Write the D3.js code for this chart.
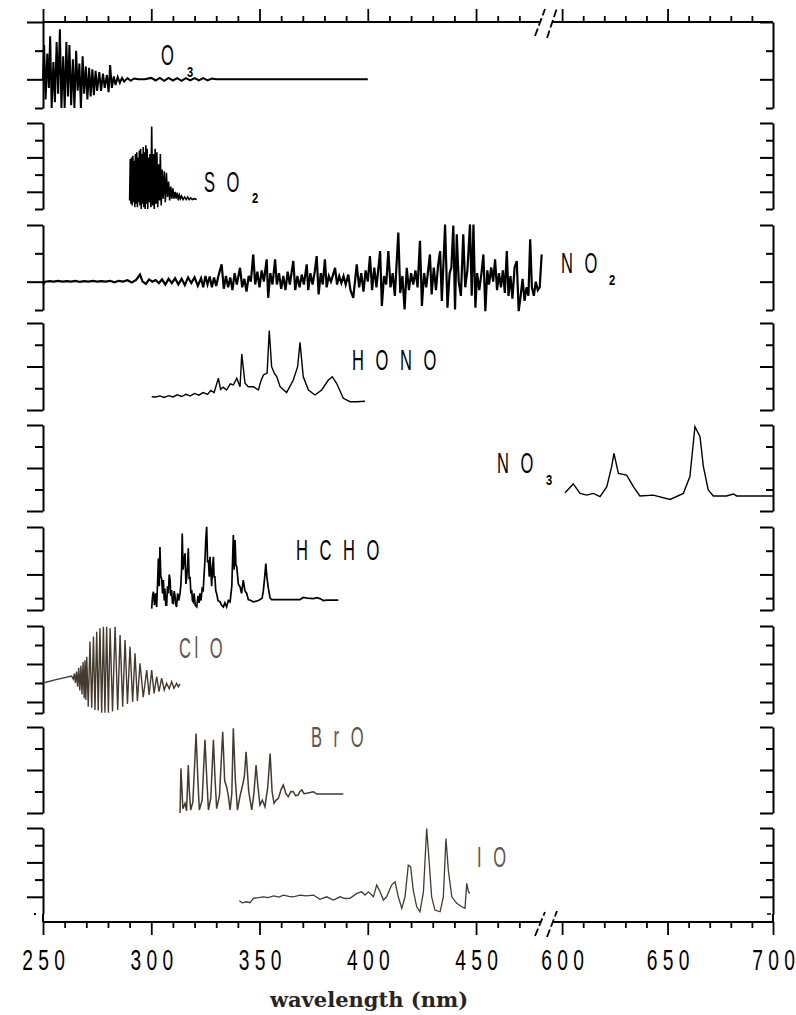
<!DOCTYPE html>
<html>
<head>
<meta charset="utf-8">
<script src="https://cdn.jsdelivr.net/npm/d3@7"></script>
<style>
  body { margin: 0; background: #fff; }
  svg { display: block; }
</style>
</head>
<body>
<svg id="chart" width="796" height="1015"></svg>
<script>
// absorption spectra, [wavelength (nm), relative value]
const o3 = [[250,0],[250.5,1.2],[251.2,-0.7],[252,0.9],[252.7,-0.3],[253.3,1.5],[254,-1.0],[254.8,0.6],
  [255.5,-0.8],[256.3,1.3],[257,-0.5],[257.8,1.75],[258.5,-1.0],[259.3,0.8],[260,-1.0],[260.8,1.3],
  [261.5,-0.6],[262.2,1.2],[263,-0.9],[263.8,0.7],[264.5,-1.0],[265.3,1.0],[266,-0.4],[266.8,0.55],
  [267.5,-1.0],[268.3,0.8],[269,-0.5],[269.8,0.45],[270.5,-0.7],[271.3,0.4],[272,-0.6],[272.8,0.35],
  [273.5,-0.55],[274.3,0.3],[275,-0.4],[276,0.25],[276.8,-0.4],[277.7,0.2],[278.5,-0.3],[279.5,0.15],
  [280.3,-0.45],[281,0.5],[281.8,-0.3],[282.7,0.1],[283.5,-0.2],[284.5,0.08],[285.5,-0.12],[286.5,0.05],
  [287.5,-0.08],[289,0.04],[290.5,-0.05],[292,0.03],[294,0],[297,0],[300,0.05],[302,-0.04],[304,0.05],
  [306,-0.05],[308,0.05],[310,-0.04],[312,0.04],[314,-0.05],[316,0.04],[318,-0.04],[320,0.04],
  [322,-0.04],[324,0.04],[326,-0.04],[328,0.03],[330,0],[400,0]];

const so2 = [[290,0.5],[290.3,2.9],[290.6,0.3],[290.9,3.0],[291.2,0.2],[291.5,3.1],[291.8,0.4],[292.1,2.8],
  [292.4,0.1],[292.7,3.2],[293,0.3],[293.3,3.3],[293.6,0.1],[293.9,3.0],[294.2,0.4],[294.5,3.4],[294.8,0.2],
  [295.1,3.5],[295.4,0],[295.7,3.2],[296,0.3],[296.3,3.6],[296.6,0.1],[296.9,3.3],[297.2,0],[297.5,3.7],
  [297.8,0.3],[298.1,3.5],[298.4,0],[298.7,3.0],[299,0.4],[299.4,3.2],[299.8,0.1],[300.2,4.8],[300.6,0.2],
  [301,3.2],[301.4,0],[301.8,3.5],[302.2,0.3],[302.6,3.3],[303,0.1],[303.4,2.6],[303.8,0.5],[304.2,3.2],
  [304.6,0.2],[305,2.3],[305.5,0.6],[306,2.2],[306.5,0.4],[307,2.1],[307.5,0.7],[308,1.6],[308.5,0.5],
  [309,1.3],[309.5,0.6],[310,1.2],[310.5,0.6],[311,1.0],[311.5,0.6],[312,0.95],[312.5,0.5],[313,0.8],
  [313.5,0.6],[314,0.75],[314.7,0.55],[315.4,0.7],[316.1,0.55],[316.8,0.7],[317.5,0.55],[318.2,0.65],
  [319,0.55],[320,0.6],[321,0.55]];

const no2 = [[250,-0.1],[251,0],[253,0.02],[255,0],[257,0.03],[259,0],[261,0.02],[263,0],[265,0.03],
  [267,-0.01],[269,0.02],[271,0],[273,0.03],[275,0],[277,0.02],[279,0],[281,0.03],[283,-0.02],[285,0.03],
  [287,0],[289,0.05],[291,-0.03],[293,0.06],[294.8,0.25],[296,0],[297.5,-0.08],[299,0.08],[300.5,0],
  [302,0.06],[303.5,-0.05],[305,0.08],[306.5,-0.1],[308,0.1],[309.5,-0.05],[311,0.12],[312.5,-0.1],
  [314,0.1],[315.5,-0.12],[317,0.15],[318.5,-0.05],[320,0.15],[321.5,-0.15],[323,0.12],[324,-0.2],
  [325,0.2],[326,-0.1],[327,0.18],[328,-0.2],[329,0.15],[330,-0.15],[331,0.2],[332.5,0.61],[333.5,-0.25],
  [334.5,0.2],[335.5,-0.2],[336.5,0.15],[337.5,-0.3],[338.5,0.3],[339.5,-0.1],[341,0.49],[342,-0.2],
  [343,0.1],[344,-0.35],[345,0.2],[346,0],[347.1,0.96],[348,-0.1],[349,0.35],[350,-0.2],[351,0.4],
  [352,0],[353.3,0.79],[354,-0.57],[355,0.3],[356,-0.1],[357.2,0.79],[358,-0.1],[359,0.3],[360,-0.25],
  [361,0.2],[362,-0.3],[363,0.35],[364,-0.1],[365.6,0.73],[366.5,-0.3],[367.5,0.2],[368.5,-0.2],
  [369.5,0.25],[370.5,-0.1],[371.8,0.61],[372.5,-0.3],[373.5,0.3],[374.5,-0.1],[375.5,0.35],[376.4,0.9],
  [377.3,-0.45],[378.3,0.3],[379.2,-0.1],[380.2,0.79],[381,-0.2],[382,0.2],[383,0],[384,0.25],
  [384.9,0.49],[385.8,-0.1],[386.8,0.2],[387.8,-0.05],[388.8,0.2],[389.8,-0.1],[391,0.25],[392,-0.3],
  [393.3,-0.57],[394.9,0.61],[396,-0.2],[397,0.3],[398,-0.35],[399,0.4],[400,0],[401,0.9],[402,-0.3],
  [403,0.5],[404,-0.2],[405.7,1.08],[406.5,-0.86],[407.5,0.2],[408.5,-0.1],[409.5,1.08],[410.5,-0.2],
  [411.5,0.3],[412.5,-0.5],[414.1,1.73],[415,-0.4],[416,0.2],[417,-0.98],[418,0.49],[419,-0.3],[420,0.3],
  [421,-0.1],[422,0.4],[423,-0.2],[424.1,1.44],[425,-0.86],[426,0.3],[427,-0.2],[428.7,0.96],
  [429.5,-0.45],[430.5,0.5],[431.5,-0.3],[432.5,0.6],[433.4,1.08],[434.2,-0.68],[435.7,2.02],
  [436.8,-0.92],[437.8,0.3],[438.6,0.5],[439.5,1.98],[440.3,-0.98],[441.1,1.67],[442,0],[443,-0.5],
  [444.1,1.67],[445,-0.2],[446,0.4],[447.2,2.02],[448,-0.5],[448.8,2.02],[449.7,-0.92],[450.5,0.3],
  [451.5,-0.3],[452.5,0.3],[453.4,0.96],[454.3,-1.04],[455.2,0.4],[456,-0.1],[457,0.5],[457.9,0],
  [458.8,0.79],[459.7,-0.3],[460.6,0.3],[461.5,-0.2],[462.4,0.4],[463.3,-0.4],[464.2,1.08],[465,-0.5],
  [465.9,0.2],[466.8,-0.6],[467.8,0.5],[468.8,0.73],[469.7,-1.04],[470.6,-0.5],[471.5,0.1],[472.4,-0.68],
  [473.3,-0.2],[474.2,-0.5],[475,1.5],[475.8,-0.2],[476.7,-0.5],[477.6,0],[478.5,-0.3],[479.4,-0.2],
  [480.3,0.96]];

const hono = [[300.2,0.61],[302,0.6],[304,0.65],[306,0.58],[308,0.66],[310,0.6],[312,0.7],[314,0.62],
  [316,0.72],[318,0.65],[320,0.76],[322,0.68],[324,0.8],[326,0.72],[327.5,0.9],[329,0.8],[331,1.46],
  [332,0.95],[333.2,1.05],[334.8,0.92],[336.5,1.2],[337.9,1.15],[339.5,1.46],[341,1.07],[341.8,2.57],
  [343.3,1.23],[344.8,1.07],[347.2,1.07],[349.5,0.92],[350.5,1.3],[351.8,1.61],[353.5,1.7],[354.5,3.65],
  [355.6,1.99],[356.8,1.69],[358,1.53],[359.5,1.07],[362.5,0.8],[365.6,1.38],[367.6,1.99],[368.7,3.11],
  [370.2,1.53],[372.6,0.92],[375.6,0.69],[378.7,0.92],[381.8,1.38],[383.6,1.53],[385.6,1.23],
  [388.7,0.54],[391.8,0.38],[395,0.38],[398.7,0.4]];

const no3 = [[601.4,0.85],[605.3,1.26],[608.5,0.82],[611.7,0.74],[614.8,0.82],[618,0.67],[621.2,1.13],
  [623.5,2.06],[624.6,2.68],[626.7,1.75],[630.6,1.67],[633.8,1.13],[636.9,0.7],[643.2,0.74],[651.2,0.54],
  [657.5,0.82],[660.6,1.6],[662.2,3.15],[663,3.92],[665.4,3.46],[667,2.06],[669.3,0.98],[671.7,0.7],
  [678,0.7],[681.2,0.79],[682.8,0.7],[700,0.7]];

const hcho = [[300.2,-0.44],[300.6,0.1],[301,0.27],[301.5,-0.3],[302,0.2],[302.5,-0.37],[302.9,0.6],
  [303.3,1.67],[303.7,0.5],[304,2.16],[304.4,0.9],[304.8,0.83],[305.2,0.2],[305.6,0.76],[306,-0.1],
  [306.3,0.41],[306.7,-0.3],[307.1,-0.3],[307.5,0.5],[307.9,0.2],[308.3,1.0],[308.7,0.76],[309,0.1],
  [309.4,0.34],[309.8,-0.2],[310.2,-0.22],[310.6,0.3],[311,0.06],[311.4,-0.3],[311.7,-0.37],[312.2,0.2],
  [312.7,-0.1],[313.3,0.2],[313.7,0.6],[314,1.18],[314.3,2.73],[314.7,1.2],[315.1,1.6],[315.6,1.89],
  [316,0.6],[316.4,0.9],[316.8,1.4],[317.1,2.1],[317.5,0.8],[317.9,0.9],[318.3,0.2],[318.7,0.34],
  [319,-0.1],[319.4,-0.16],[319.8,0.2],[320.3,-0.3],[321,-0.37],[321.6,0.1],[322.1,-0.2],[322.5,0.2],
  [323,-0.1],[323.5,0.4],[324,0.34],[324.4,1.0],[324.8,1.6],[325.2,2.5],[325.6,3.01],[326,1.5],
  [326.4,1.6],[326.8,0.9],[327.1,1.74],[327.5,1.2],[327.9,0.5],[328.3,1.3],[328.7,1.74],[329,0.9],
  [329.4,0.9],[329.8,0.3],[330.2,0.2],[330.8,-0.1],[331.8,-0.16],[332.5,-0.3],[333.3,-0.37],[334,-0.2],
  [334.8,-0.37],[335.6,-0.1],[336.4,-0.16],[337.2,0.5],[337.9,2.66],[338.3,1.2],[338.7,2.45],[339.1,1.4],
  [339.5,1.32],[340.2,0.6],[341,0.48],[341.7,0.2],[342.5,0.76],[343.3,0.3],[344.1,0.2],[344.8,-0.06],
  [346,-0.1],[347.2,-0.16],[349.5,-0.1],[351.2,0],[351.8,0.34],[352.4,0.9],[352.9,1.46],[353.4,0.9],
  [354.1,0.4],[354.9,0],[355.6,-0.06],[361,-0.06],[368.7,-0.06],[370.2,0.03],[372,0],[374.9,-0.02],
  [376.5,0.02],[377.9,-0.02],[379.5,-0.1],[381,-0.08],[386.4,-0.08]];

const clo = [[250,0],[256,0.18],[263.2,0.37],[264,0.2],[264.5,0.5],[265,0],[265.5,0.6],[266,-0.2],
  [266.5,0.8],[267,-0.4],[267.5,0.9],[268,-0.6],[268.5,1.1],[269,-0.8],[269.4,1.2],[269.8,-0.9],
  [270.2,1.38],[270.9,-1.25],[271.7,2.18],[272.5,-1.3],[273.3,2.44],[274,-1.42],[274.8,2.7],[275.5,-1.45],
  [276.3,2.88],[277.1,-1.56],[277.9,2.96],[278.6,-1.56],[279.4,2.96],[280.2,-1.56],[281,2.88],[282.1,-1.5],
  [283.3,2.96],[284.5,-1.42],[285.6,2.53],[286.8,-1.25],[287.9,2.26],[289,-1.1],[290.2,1.91],[291.4,-1.0],
  [292.5,1.56],[293.6,-0.95],[294.8,1.04],[296.3,-0.75],[297.9,0.68],[299,-0.63],[300.2,0.68],
  [301.3,-0.55],[302.5,0.33],[303.6,-0.46],[304.8,0.25],[306,-0.37],[307.1,-0.02],[308.3,-0.3],
  [309.4,0.07],[310.5,-0.28],[311.7,-0.02],[312.5,-0.2],[313.3,-0.05]];

const bro = [[313.3,0],[313.7,2.08],[314.6,0.2],[315.6,0.45],[316.3,0.1],[317.1,2.23],[317.6,1.0],
  [318.2,0.14],[319.2,0.5],[320.7,3.7],[321.5,1.6],[322.2,0.14],[323.5,0.6],[324.8,3.4],[325.6,1.69],
  [326.4,0.14],[327.5,0.7],[328.7,3.4],[329.5,1.5],[330.2,0.2],[331.5,0.8],[333,3.78],[333.9,1.5],
  [334.8,1.22],[335.6,0.8],[336.4,0.14],[337.2,0.9],[337.9,3.94],[338.8,1.6],[339.8,0.14],[341,0.8],
  [342.2,1.3],[343,1.7],[343.8,2.85],[345,1.0],[346.4,0.14],[347.4,0.9],[348.4,2.23],[349.3,1.2],
  [350.2,0.37],[351.3,0.6],[352.5,0.29],[353.8,1.2],[354.9,2.77],[355.8,1.0],[356.7,0.45],[357.7,0.6],
  [358.7,0.68],[360,1.1],[361,1.3],[362.2,0.9],[363.3,0.76],[364.5,1.0],[365.6,0.99],[366.7,0.8],
  [367.9,0.84],[368.7,1.0],[369.5,1.07],[370.6,0.9],[371.8,0.92],[373.3,0.95],[374.9,0.99],[376.4,0.88],
  [377.9,0.88],[383,0.88],[388.7,0.88]];

const io = [[340.7,0.77],[342,0.65],[344.1,0.71],[345.6,0.66],[347.2,0.91],[349.5,0.95],[351.8,1.0],
  [354,0.95],[356.5,1.05],[359,0.98],[361,1.1],[363.5,1.02],[365.6,1.0],[368.7,1.1],[371.5,1.05],
  [374.9,1.1],[377.9,0.85],[381,1.0],[384.1,0.81],[387.2,1.0],[389.5,0.9],[391.8,0.91],[394.9,1.2],
  [397.2,1.29],[398.7,1.1],[400.3,1.29],[402.6,1.0],[404.1,1.68],[405.7,1.29],[407.2,0.81],[408.7,1.0],
  [411,1.68],[412.6,1.87],[414.1,1.0],[415.7,0.33],[417.2,1.0],[418.7,2.84],[419.8,2.74],[421,1.39],
  [422.6,0.42],[424.1,0.13],[425.7,1.29],[427.2,4.97],[428.4,2.94],[429.5,1.0],[431,0.23],[433.4,0.13],
  [434.9,1.0],[436.1,4.39],[437.2,2.55],[438.8,1.0],[441.1,0.62],[443.4,0.42],[444.9,0.33],[445.7,1.78],
  [446.5,1.29],[447.2,1.2]];

// x axis ticks, in two pieces either side of the break
const xTicksLeft = [250, 260, 270, 280, 290, 300, 310, 320, 330, 340, 350, 360, 370, 380, 390,
  400, 410, 420, 430, 440, 450, 460, 470];
const xTicksRight = [600, 610, 620, 630, 640, 650, 660, 670, 680, 690, 700];

const black = "#000";
const brown = "#443a2e";

// panel layout: pixel band, value domain and tick values of each trace
const panels = [
  { data: o3, top: 22, bottom: 108, domain: [-1, 2], ticks: [2, 1, 0, -1], color: black, width: 2,
    label: ["O", 161, 65], sub: ["3", 187, 77] },
  { data: so2, top: 123, bottom: 209, domain: [0, 5], ticks: [5, 4, 3, 2, 1, 0], color: black, width: 1.6,
    label: ["S O", 204, 192], sub: ["2", 252, 203] },
  { data: no2, top: 225, bottom: 310, domain: [-1, 2], ticks: [2, 1, 0, -1], color: black, width: 2.2,
    label: ["N O", 561, 273], sub: ["2", 609, 285] },
  { data: hono, top: 323, bottom: 410, domain: [0, 4], ticks: [4, 3, 2, 1, 0], color: black, width: 1.4,
    label: ["H O N O", 352, 370] },
  { data: no3, top: 425, bottom: 511, domain: [0, 4], ticks: [4, 3, 2, 1, 0], color: black, width: 1.4,
    label: ["N O", 497, 473], sub: ["3", 546, 485], right: true },
  { data: hcho, top: 527, bottom: 610, domain: [-0.5, 3], ticks: [3, 2, 1, 0, -0.5], color: black, width: 1.7,
    label: ["H C H O", 296, 560] },
  { data: clo, top: 626, bottom: 713, domain: [-1.58, 3], ticks: [3, 2, 1, 0, -1, -1.58], color: brown, width: 1.4,
    label: ["Cl O", 179, 658], labelColor: "#5e554b" },
  { data: bro, top: 727, bottom: 813, domain: [0, 4], ticks: [4, 3, 2, 1, 0], color: brown, width: 1.5,
    label: ["B r O", 311, 747], labelColor: "#5e554b" },
  { data: io, top: 828, bottom: 914, domain: [0, 5], ticks: [5, 4, 3, 2, 1], color: brown, width: 1.3,
    label: ["I O", 477, 867], labelColor: "#5e554b" }
];

const svg = d3.select("#chart");
const axisLeftX = 43, axisRightX = 773;

const xLeft = d3.scaleLinear().domain([250, 480]).range([43, 541]);
const xRight = d3.scaleLinear().domain([590, 700]).range([541, 773]);

const narrowFont = "'Liberation Sans', Arial, sans-serif";

// text in the narrow face of the original
const addLabel = (g, text, x, y, size, sx, color, spacing, weight) => {
  g.append("text")
    .attr("transform", `translate(${x},${y}) scale(${sx},1)`)
    .attr("font-family", narrowFont)
    .attr("font-size", size)
    .attr("font-weight", weight || "normal")
    .attr("letter-spacing", spacing / sx)
    .attr("fill", color)
    .text(text);
};

//x axes, top and bottom
const drawX = (axisFn, scale, ticks, y, withLabels) => {
  const sign = axisFn === d3.axisTop ? -1 : 1;
  const g = svg.append("g")
    .attr("transform", `translate(0,${y})`)
    .call(axisFn(scale).tickValues(ticks).tickSize(6).tickSizeOuter(0)
      .tickFormat(d => (withLabels && d % 50 === 0 ? String(d).split("").join(" ") : "")));
  g.select(".domain").remove();
  g.selectAll(".tick line")
    .attr("stroke-width", 1.8)
    .attr("y2", d => sign * (d % 50 === 0 ? 13 : 6));
  g.selectAll(".tick text")
    .attr("y", 48).attr("dy", null)
    .attr("transform", "scale(0.64,1)")
    .attr("font-family", narrowFont)
    .attr("font-size", 30)
    .attr("fill", "#000");
  g.attr("font-size", null).attr("font-family", null);
  return g;
};

drawX(d3.axisTop, xLeft, xTicksLeft, 22, false);
drawX(d3.axisTop, xRight, xTicksRight.filter(d => d < 700), 22, false);
drawX(d3.axisBottom, xLeft, xTicksLeft, 922, true);
drawX(d3.axisBottom, xRight, xTicksRight, 922, true);

// axis lines with the gap for the break
[22, 922].forEach(y => {
  svg.append("line").attr("x1", 43).attr("x2", 540).attr("y1", y).attr("y2", y)
    .attr("stroke", "#000").attr("stroke-width", 2);
  svg.append("line").attr("x1", 552).attr("x2", 773).attr("y1", y).attr("y2", y)
    .attr("stroke", "#000").attr("stroke-width", 2);
});

// break marks //
const breaks = svg.append("g").attr("stroke", "#000").attr("stroke-width", 1.8)
  .attr("stroke-dasharray", "8,3");
[[535, 36, 545, 9], [547, 38, 557, 8], [535, 936, 545, 912], [547, 937, 557, 911]].forEach(s => {
  breaks.append("line").attr("x1", s[0]).attr("y1", s[1]).attr("x2", s[2]).attr("y2", s[3]);
});

// panels
panels.forEach(p => {
  const y = d3.scaleLinear().domain(p.domain).range([p.bottom, p.top]);
  const g = svg.append("g");

  [[axisLeftX, 16, 8], [axisRightX, 13, 7]].forEach(([ax, longT, shortT]) => {
    const a = g.append("g")
      .attr("transform", `translate(${ax},0)`)
      .call(d3.axisLeft(y).tickValues(p.ticks).tickSize(shortT).tickSizeOuter(0).tickFormat(""));
    a.select(".domain").attr("stroke-width", 2);
    a.selectAll(".tick line")
      .attr("stroke-width", 2)
      .attr("x2", (d, i) => (i % 2 === 0 ? -longT : -shortT));
  });

  const line = d3.line()
    .x(d => (p.right ? xRight(d[0]) : xLeft(d[0])))
    .y(d => y(d[1]));

  g.append("path")
    .datum(p.data)
    .attr("d", line)
    .attr("fill", "none")
    .attr("stroke", p.color)
    .attr("stroke-width", p.width)
    .attr("stroke-linejoin", "miter");

  const lc = p.labelColor || "#000";
  addLabel(g, p.label[0], p.label[1], p.label[2], 30, 0.55, lc, 3.5);
  if (p.sub) addLabel(g, p.sub[0], p.sub[1], p.sub[2], 14, 0.8, lc, 0, "bold");
});

// lowest frame runs down to the bottom axis
[axisLeftX, axisRightX].forEach(ax => {
  svg.append("line").attr("x1", ax).attr("x2", ax).attr("y1", 914).attr("y2", 922)
    .attr("stroke", "#000").attr("stroke-width", 2);
});
svg.append("rect").attr("x", 34).attr("y", 913).attr("width", 2).attr("height", 2).attr("fill", "#000");
svg.append("line").attr("x1", 767).attr("x2", 771).attr("y1", 914).attr("y2", 914)
  .attr("stroke", "#000").attr("stroke-width", 1.5);

svg.append("text")
  .attr("x", 369)
  .attr("y", 1007)
  .attr("text-anchor", "middle")
  .attr("font-family", "'DejaVu Serif', serif")
  .attr("font-weight", "bold")
  .attr("font-size", 21)
  .attr("fill", "#2a241e")
  .text("wavelength (nm)");
</script>
</body>
</html>
